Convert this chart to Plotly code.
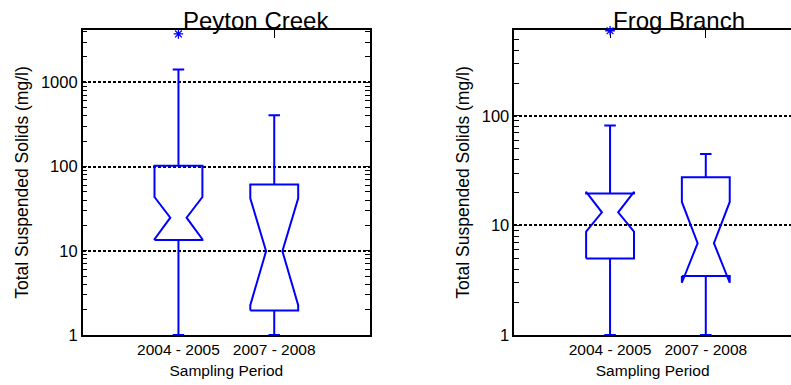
import plotly.graph_objects as go

# ---------------- data ----------------
categories = ["2004 - 2005", "2007 - 2008"]

peyton_whislo = [1.0, 1.0]
peyton_q1 = [13.4, 1.95]
peyton_med = [24.7, 9.9]
peyton_q3 = [102.0, 61.0]
peyton_whishi = [1420.0, 405.0]
peyton_notch_lo = [13.7, 2.26]
peyton_notch_hi = [43.5, 42.0]
peyton_outliers = [[3750.0], []]

frog_whislo = [1.0, 1.0]
frog_q1 = [5.0, 3.45]
frog_med = [13.2, 6.9]
frog_q3 = [19.6, 27.5]
frog_whishi = [82.0, 45.0]
frog_notch_lo = [8.8, 3.0]
frog_notch_hi = [20.3, 16.4]
frog_outliers = [[600.0], []]

peyton_yticks = [1, 10, 100, 1000]
peyton_yticktext = ["1", "10", "100", "1000"]
frog_yticks = [1, 10, 100]
frog_yticktext = ["1", "10", "100"]

titles = ["Peyton Creek", "Frog Branch"]
y_title = "Total Suspended Solids (mg/l)"
x_title = "Sampling Period"

# ---------------- style ----------------
BLUE = "#0000ff"
HW = 0.25     # box half width (category units)
NW = 0.085    # notch half width at median
CW = 0.06     # whisker cap half width
FONT = "Liberation Sans, Arial, sans-serif"

fig = go.Figure()


def add_boxes(xa, ya, whislo, q1, med, q3, whishi, nlo, nhi, outliers):
    bx, by, wx, wy, ox, oy = [], [], [], [], [], []
    for i in range(len(categories)):
        # notched box outline
        bx += [i - HW, i - HW, i - NW, i - HW, i - HW, i + HW, i + HW, i + NW,
               i + HW, i + HW, i - HW, None]
        by += [q1[i], nlo[i], med[i], nhi[i], q3[i], q3[i], nhi[i], med[i],
               nlo[i], q1[i], q1[i], None]
        # whiskers + caps
        wx += [i, i, None, i - CW, i + CW, None, i, i, None, i - CW, i + CW, None]
        wy += [q3[i], whishi[i], None, whishi[i], whishi[i], None,
               q1[i], whislo[i], None, whislo[i], whislo[i], None]
        for v in outliers[i]:
            ox.append(i)
            oy.append(v)
    fig.add_trace(go.Scatter(x=bx, y=by, mode="lines", xaxis=xa, yaxis=ya,
                             line=dict(color=BLUE, width=2), showlegend=False,
                             hoverinfo="skip"))
    fig.add_trace(go.Scatter(x=wx, y=wy, mode="lines", xaxis=xa, yaxis=ya,
                             line=dict(color=BLUE, width=2), showlegend=False,
                             hoverinfo="skip"))
    if ox:
        fig.add_trace(go.Scatter(x=ox, y=oy, mode="markers", xaxis=xa, yaxis=ya,
                                 marker=dict(symbol="asterisk-open", size=8, color=BLUE,
                                             line=dict(color=BLUE, width=1.3)),
                                 cliponaxis=False, showlegend=False))


add_boxes("x", "y", peyton_whislo, peyton_q1, peyton_med, peyton_q3, peyton_whishi,
          peyton_notch_lo, peyton_notch_hi, peyton_outliers)
add_boxes("x2", "y2", frog_whislo, frog_q1, frog_med, frog_q3, frog_whishi,
          frog_notch_lo, frog_notch_hi, frog_outliers)

common_x = dict(tickmode="array", tickvals=[0, 1], ticktext=categories, tickangle=0,
                ticks="inside", ticklen=8, tickcolor="black", tickwidth=1,
                showline=True, linecolor="black", linewidth=1.5, mirror="ticks",
                showgrid=False, zeroline=False,
                tickfont=dict(family=FONT, size=15.5, color="black"),
                title=dict(text=x_title, font=dict(family=FONT, size=15.5, color="black"),
                           standoff=8),
                layer="below traces")

common_y = dict(type="log", tickmode="array",
                ticks="inside", ticklen=5, tickcolor="black", tickwidth=1,
                showline=True, linecolor="black", linewidth=1.5,
                showgrid=True, gridcolor="black", gridwidth=1.5, griddash="3px,2px",
                zeroline=False,
                minor=dict(ticks="inside", ticklen=5, tickcolor="black", tickwidth=1,
                           dtick="D1", showgrid=False),
                tickfont=dict(family=FONT, size=16.5, color="black"),
                title=dict(text=y_title, font=dict(family=FONT, size=17.5, color="black"),
                           standoff=8),
                layer="below traces")

fig.update_layout(
    width=791, height=385,
    margin=dict(l=0, r=0, t=30, b=50),
    paper_bgcolor="white", plot_bgcolor="white",
    showlegend=False,
    xaxis=dict(common_x, domain=[0.1045, 0.4678], range=[-1, 2], anchor="y"),
    yaxis=dict(common_y, domain=[0, 1], range=[0, 3.621], anchor="x",
               tickvals=peyton_yticks, ticktext=peyton_yticktext, mirror="ticks"),
    xaxis2=dict(common_x, domain=[0.6502, 1.0], range=[-1, 1.89], anchor="y2"),
    yaxis2=dict(common_y, domain=[0, 1], range=[0, 2.785], anchor="x2",
                tickvals=frog_yticks, ticktext=frog_yticktext, mirror=False),
)

fig.add_annotation(text=titles[0], xref="paper", yref="paper",
                   x=256 / 791, y=1.0, xanchor="center", yanchor="bottom", yshift=-6,
                   showarrow=False, font=dict(family=FONT, size=24, color="black"))
fig.add_annotation(text=titles[1], xref="paper", yref="paper",
                   x=679 / 791, y=1.0, xanchor="center", yanchor="bottom", yshift=-6,
                   showarrow=False, font=dict(family=FONT, size=24, color="black"))

fig.write_html("out.html")
